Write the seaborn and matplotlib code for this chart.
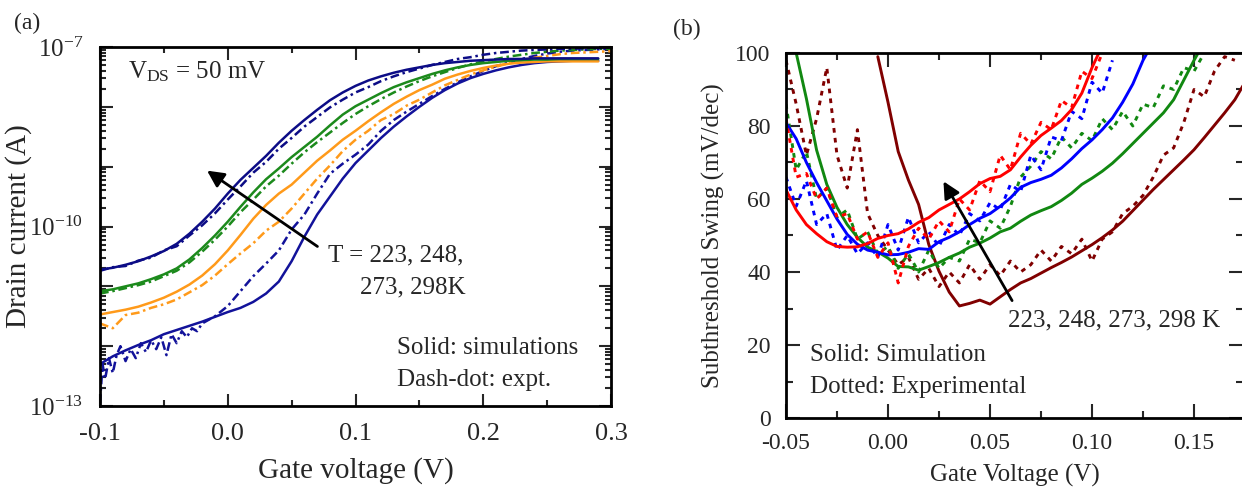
import numpy as np
import pandas as pd
import seaborn as sns
import matplotlib.pyplot as plt
from matplotlib.ticker import LogLocator, MultipleLocator, NullFormatter, FormatStrFormatter

sns.set_style("white")
plt.rcParams['font.family'] = ['Liberation Serif', 'DejaVu Serif']
plt.rcParams['mathtext.fontset'] = 'custom'
plt.rcParams['mathtext.rm'] = 'Liberation Serif'
plt.rcParams['mathtext.it'] = 'Liberation Serif:italic'

# ---------------- panel (a): Id-Vg, log10(I) ----------------
va_sim = [-0.10, -0.09, -0.08, -0.07, -0.06, -0.05, -0.04, -0.03, -0.02, -0.01,
          0.00, 0.01, 0.02, 0.03, 0.04, 0.05, 0.06, 0.07, 0.08, 0.09,
          0.10, 0.11, 0.12, 0.13, 0.14, 0.15, 0.16, 0.17, 0.18, 0.19,
          0.20, 0.21, 0.22, 0.23, 0.24, 0.25, 0.26, 0.27, 0.28, 0.29]
sim_223 = [-12.30, -12.17, -12.07, -11.98, -11.90, -11.80, -11.73, -11.66, -11.59, -11.51,
           -11.43, -11.36, -11.26, -11.12, -10.92, -10.58, -10.17, -9.80, -9.50, -9.20,
           -8.94, -8.73, -8.52, -8.33, -8.16, -8.00, -7.85, -7.72, -7.61, -7.52,
           -7.45, -7.39, -7.34, -7.30, -7.27, -7.25, -7.24, -7.23, -7.23, -7.23]
sim_248 = [-11.47, -11.43, -11.39, -11.34, -11.27, -11.19, -11.09, -10.97, -10.82, -10.63,
           -10.40, -10.14, -9.87, -9.64, -9.45, -9.30, -9.10, -8.90, -8.73, -8.55,
           -8.40, -8.24, -8.09, -7.95, -7.83, -7.72, -7.63, -7.53, -7.46, -7.40,
           -7.35, -7.31, -7.28, -7.26, -7.25, -7.24, -7.24, -7.24, -7.24, -7.24]
sim_273 = [-11.08, -11.05, -11.00, -10.95, -10.88, -10.80, -10.70, -10.55, -10.36, -10.15,
           -9.92, -9.67, -9.43, -9.21, -9.03, -8.84, -8.67, -8.50, -8.31, -8.13,
           -7.99, -7.88, -7.77, -7.67, -7.59, -7.52, -7.45, -7.39, -7.34, -7.30,
           -7.27, -7.25, -7.23, -7.22, -7.21, -7.21, -7.20, -7.20, -7.20, -7.20]
sim_298 = [-10.72, -10.69, -10.64, -10.58, -10.50, -10.41, -10.29, -10.12, -9.92, -9.70,
           -9.45, -9.22, -9.02, -8.82, -8.60, -8.40, -8.22, -8.05, -7.89, -7.76,
           -7.65, -7.56, -7.49, -7.43, -7.38, -7.34, -7.30, -7.27, -7.25, -7.23,
           -7.22, -7.21, -7.20, -7.20, -7.19, -7.19, -7.19, -7.19, -7.19, -7.19]

va_exp = [-0.10, -0.09, -0.08, -0.07, -0.06, -0.05, -0.04, -0.03, -0.02, -0.01,
          0.00, 0.01, 0.02, 0.03, 0.04, 0.05, 0.06, 0.07, 0.08, 0.09,
          0.10, 0.11, 0.12, 0.13, 0.14, 0.15, 0.16, 0.17, 0.18, 0.19,
          0.20, 0.21, 0.22, 0.23, 0.24, 0.25, 0.26, 0.27, 0.28, 0.29, 0.30]
exp_248 = [-11.62, -11.70, -11.48, -11.44, -11.36, -11.30, -11.22, -11.10, -10.98, -10.82,
           -10.63, -10.45, -10.28, -10.07, -9.92, -9.70, -9.45, -9.20, -8.98, -8.74,
           -8.55, -8.40, -8.22, -8.12, -7.98, -7.88, -7.76, -7.64, -7.55, -7.46,
           -7.39, -7.33, -7.27, -7.22, -7.18, -7.15, -7.12, -7.10, -7.09, -7.08, -7.07]
exp_273 = [-11.12, -11.08, -11.03, -10.98, -10.92, -10.83, -10.74, -10.60, -10.42, -10.22,
           -10.00, -9.76, -9.55, -9.33, -9.15, -8.95, -8.76, -8.59, -8.43, -8.27,
           -8.12, -7.99, -7.87, -7.76, -7.66, -7.57, -7.49, -7.42, -7.35, -7.29,
           -7.24, -7.20, -7.16, -7.13, -7.10, -7.08, -7.06, -7.05, -7.04, -7.03, -7.03]
exp_298 = [-10.74, -10.68, -10.66, -10.57, -10.52, -10.40, -10.33, -10.15, -9.98, -9.78,
           -9.55, -9.33, -9.10, -8.92, -8.70, -8.52, -8.33, -8.17, -8.01, -7.88,
           -7.76, -7.67, -7.57, -7.49, -7.42, -7.36, -7.30, -7.25, -7.20, -7.17,
           -7.13, -7.10, -7.08, -7.06, -7.05, -7.04, -7.03, -7.03, -7.02, -7.02, -7.01]

va_exp_223 = [-0.100, -0.098, -0.096, -0.093, -0.090, -0.087, -0.084, -0.080, -0.076, -0.072,
              -0.068, -0.064, -0.060, -0.056, -0.052, -0.048, -0.044, -0.040, -0.036, -0.032,
              -0.028, -0.024, -0.020, -0.01, 0.00, 0.01, 0.02, 0.03, 0.04, 0.05,
              0.06, 0.07, 0.08, 0.09, 0.10, 0.11, 0.12, 0.13, 0.14, 0.15,
              0.16, 0.17, 0.18, 0.19, 0.20, 0.21, 0.22, 0.23, 0.24, 0.25,
              0.26, 0.27, 0.28, 0.29, 0.30]
exp_223 = [-12.95, -12.30, -12.55, -12.20, -12.45, -12.15, -12.00, -12.25, -12.05, -12.20,
           -11.95, -12.10, -11.90, -12.05, -11.85, -12.15, -11.80, -11.95, -11.75, -11.85,
           -11.70, -11.75, -11.62, -11.50, -11.33, -11.08, -10.83, -10.62, -10.40, -10.05,
           -9.80, -9.45, -9.12, -8.95, -8.80, -8.63, -8.40, -8.22, -8.08, -7.95,
           -7.82, -7.70, -7.59, -7.49, -7.40, -7.32, -7.26, -7.20, -7.15, -7.11,
           -7.08, -7.06, -7.05, -7.04, -7.03]

# ---------------- panel (b): subthreshold swing ----------------
vb = [-0.050, -0.045, -0.040, -0.035, -0.030, -0.025, -0.020, -0.015, -0.010, -0.005,
      0.000, 0.005, 0.010, 0.015, 0.020, 0.025, 0.030, 0.035, 0.040, 0.045,
      0.050, 0.055, 0.060, 0.065, 0.070, 0.075, 0.080, 0.085, 0.090, 0.095,
      0.100, 0.105, 0.110, 0.115, 0.120, 0.125, 0.130, 0.135, 0.140, 0.145,
      0.150, 0.155, 0.160, 0.165, 0.170, 0.175]
nan = np.nan
ss_sim_298 = [62.5, 57.0, 53.0, 50.5, 48.3, 47.0, 46.8, 46.9, 47.8, 49.2,
              50.0, 50.5, 51.8, 53.6, 54.9, 57.0, 58.5, 60.0, 62.0, 64.2,
              65.6, 66.2, 68.0, 71.5, 74.7, 77.4, 79.4, 81.5, 84.5, 89.0,
              96.0, 102.0, nan, nan, nan, nan, nan, nan, nan, nan,
              nan, nan, nan, nan, nan, nan]
ss_sim_273 = [80.9, 76.5, 70.0, 64.5, 59.5, 54.5, 50.3, 47.6, 46.0, 45.4,
              44.7, 44.8, 45.4, 46.4, 46.2, 48.3, 49.5, 51.0, 53.0, 54.7,
              56.0, 58.0, 60.3, 63.2, 64.5, 65.4, 66.5, 68.5, 71.0, 73.8,
              76.2, 79.0, 82.2, 86.5, 91.5, 98.0, 103.0, nan, nan, nan,
              nan, nan, nan, nan, nan, nan]
ss_sim_248 = [nan, 100.0, 87.5, 73.4, 64.0, 57.7, 53.0, 49.5, 46.8, 45.5,
              43.8, 41.5, 41.4, 40.5, 41.5, 42.6, 44.0, 45.2, 46.8, 47.9,
              49.3, 51.0, 52.0, 53.9, 55.6, 56.8, 57.9, 59.6, 61.6, 64.0,
              65.7, 67.6, 69.8, 72.4, 75.2, 78.0, 80.8, 83.6, 87.2, 92.6,
              98.0, 103.0, nan, nan, nan, nan]
ss_sim_223 = [nan, nan, nan, nan, nan, nan, nan, nan, nan, 99.0,
              86.5, 73.0, 65.2, 58.5, 47.5, 40.2, 34.5, 30.7, 31.4, 32.3,
              31.2, 33.2, 35.2, 37.0, 38.2, 39.7, 41.2, 42.6, 44.1, 45.8,
              47.5, 49.4, 51.5, 53.9, 56.8, 59.7, 62.6, 65.3, 68.0, 70.7,
              73.5, 76.8, 80.2, 83.6, 87.2, 92.0]

ss_exp_298 = [82, 66, 67, 60, 63, 55, 56, 49, 51, 44,
              48, 37, 47, 52, 49, 54, 51, 60, 57, 65,
              62, 72, 68, 78, 75, 81, 79, 87, 85, 95,
              93, 100, nan, nan, nan, nan, nan, nan, nan, nan,
              nan, nan, nan, nan, nan, nan]
ss_exp_273 = [66, 58, 65, 53, 56, 46, 50, 45, 48, 44,
              53, 46, 55, 48, 51, 47, 53, 50, 56, 54,
              59, 57, 64, 62, 72, 68, 77, 76, 84, 82,
              92, 89, 98, nan, nan, nan, nan, nan, nan, nan,
              nan, nan, nan, nan, nan, nan]
ss_exp_248 = [86, 68, 73, 60, 63, 55, 57, 49, 51, 45,
              47, 41, 45, 40, 46, 41, 44, 43, 49, 48,
              54, 52, 58, 66, 69, 73, 71, 77, 74, 78,
              76, 82, 79, 84, 80, 86, 85, 91, 90, 96,
              95, 100, nan, nan, nan, nan]
ss_exp_223 = [98, 86, 72, 82, 96, 72, 63, 79, 56, 50,
              46, 42, 44, 38, 41, 36, 40, 37, 42, 38,
              42, 39, 43, 40, 42, 46, 43, 47, 45, 49,
              43, 49, 51, 56, 58, 61, 66, 72, 74, 81,
              90, 88, 95, 99, 98, nan]

# long tables
def block(v, y, t, kind):
    return pd.DataFrame({'V': v, 'y': y, 'T': t, 'kind': kind})

df_a = pd.concat([
    block(va_sim, sim_223, '223', 'sim'), block(va_sim, sim_248, '248', 'sim'),
    block(va_sim, sim_273, '273', 'sim'), block(va_sim, sim_298, '298', 'sim'),
    block(va_exp_223, exp_223, '223', 'expt'), block(va_exp, exp_248, '248', 'expt'),
    block(va_exp, exp_273, '273', 'expt'), block(va_exp, exp_298, '298', 'expt'),
], ignore_index=True)
df_a['I'] = 10.0 ** df_a['y']

df_b = pd.concat([
    block(vb, ss_sim_223, '223', 'sim'), block(vb, ss_sim_248, '248', 'sim'),
    block(vb, ss_sim_273, '273', 'sim'), block(vb, ss_sim_298, '298', 'sim'),
    block(vb, ss_exp_223, '223', 'expt'), block(vb, ss_exp_248, '248', 'expt'),
    block(vb, ss_exp_273, '273', 'expt'), block(vb, ss_exp_298, '298', 'expt'),
], ignore_index=True).dropna()

pal_a = {'223': '#12129a', '248': '#ff9a1a', '273': '#1c8a1c', '298': '#0c0c86'}
pal_b = {'223': '#800000', '248': '#118811', '273': '#0000ff', '298': '#ff0000'}

fig = plt.figure(figsize=(12.42, 4.9), dpi=100)
axa = fig.add_axes([100 / 1242, 1 - 406 / 490, 511 / 1242, 359 / 490])
axb = fig.add_axes([786 / 1242, 1 - 418 / 490, 457 / 1242, 365 / 490])

sns.lineplot(data=df_a, x='V', y='I', hue='T', style='kind', palette=pal_a,
             dashes={'sim': '', 'expt': (3.5, 1.5, 1, 1.5)}, lw=1.8,
             estimator=None, legend=False, ax=axa)
sns.lineplot(data=df_b, x='V', y='y', hue='T', style='kind', palette=pal_b,
             dashes={'sim': '', 'expt': (1.6, 1.8)}, lw=2.1,
             estimator=None, legend=False, ax=axb)

# ---- axes (a)
axa.set_yscale('log')
axa.set_xlim(-0.1, 0.3)
axa.set_ylim(1e-13, 1e-7)
axa.set_xticks([-0.1, 0.0, 0.1, 0.2, 0.3])
axa.set_xticklabels(['-0.1', '0.0', '0.1', '0.2', '0.3'])
axa.xaxis.set_minor_locator(MultipleLocator(0.05))
axa.set_yticks([10.0 ** k for k in range(-13, -6)])
axa.set_yticklabels(['$10^{-13}$', '', '', '$10^{-10}$', '', '', '$10^{-7}$'])
axa.yaxis.set_minor_locator(LogLocator(base=10, subs=np.arange(2, 10), numticks=20))
axa.yaxis.set_minor_formatter(NullFormatter())
axa.set_xlabel('Gate voltage (V)', fontsize=21, labelpad=9)
axa.set_ylabel('Drain current (A)', fontsize=21)
axa.yaxis.set_label_coords(-0.133, 0.5)
axa.tick_params(which='both', direction='in', bottom=True, left=True, top=True, right=True,
                width=1.5, labelsize=19)
axa.tick_params(axis='x', pad=12)
axa.tick_params(axis='y', pad=12, labelsize=18)
axa.tick_params(which='major', length=9)
axa.tick_params(which='minor', length=4.5)
for s in axa.spines.values():
    s.set_linewidth(2)
    s.set_color('black')

axa.annotate('', xy=(-0.018, 10 ** -9.04), xytext=(0.072, 10 ** -10.36),
             arrowprops=dict(arrowstyle='-|>', color='black', lw=2, mutation_scale=25))
axa.text(0.055, 0.93, 'V$_{\\rm DS}$ = 50 mV', transform=axa.transAxes, fontsize=18, va='center')
axa.text(0.446, 0.42, 'T = 223, 248,', transform=axa.transAxes, fontsize=18, va='center')
axa.text(0.509, 0.331, '273, 298K', transform=axa.transAxes, fontsize=18, va='center')
axa.text(0.581, 0.162, 'Solid: simulations', transform=axa.transAxes, fontsize=18, va='center')
axa.text(0.581, 0.072, 'Dash-dot: expt.', transform=axa.transAxes, fontsize=18, va='center')

# ---- axes (b)
axb.set_xlim(-0.05, 0.174)
axb.set_ylim(0, 100)
axb.xaxis.set_major_locator(MultipleLocator(0.05))
axb.xaxis.set_minor_locator(MultipleLocator(0.025))
axb.xaxis.set_major_formatter(FormatStrFormatter('%.2f'))
axb.yaxis.set_major_locator(MultipleLocator(20))
axb.yaxis.set_minor_locator(MultipleLocator(10))
axb.set_xlabel('Gate Voltage (V)', fontsize=18, labelpad=7)
axb.set_ylabel('Subthreshold Swing (mV/dec)', fontsize=18)
axb.yaxis.set_label_coords(-0.133, 0.5)
axb.tick_params(which='both', direction='in', bottom=True, left=True, top=True, right=True,
                width=1.5, labelsize=17)
axb.tick_params(axis='x', pad=11)
axb.tick_params(axis='y', pad=11)
axb.tick_params(which='major', length=10)
axb.tick_params(which='minor', length=5)
for s in axb.spines.values():
    s.set_linewidth(2)
    s.set_color('black')

axb.annotate('', xy=(0.0265, 65.5), xytext=(0.0615, 31.5),
             arrowprops=dict(arrowstyle='-|>', color='black', lw=2, mutation_scale=25))
axb.text(0.486, 0.268, '223, 248, 273, 298 K', transform=axb.transAxes, fontsize=18, va='center')
axb.text(0.053, 0.173, 'Solid: Simulation', transform=axb.transAxes, fontsize=18, va='center')
axb.text(0.053, 0.085, 'Dotted: Experimental', transform=axb.transAxes, fontsize=18, va='center')

fig.text(0.011, 0.953, '(a)', fontsize=17, va='center')
fig.text(0.542, 0.939, '(b)', fontsize=17, va='center')

fig.savefig('out.png', dpi=100)
